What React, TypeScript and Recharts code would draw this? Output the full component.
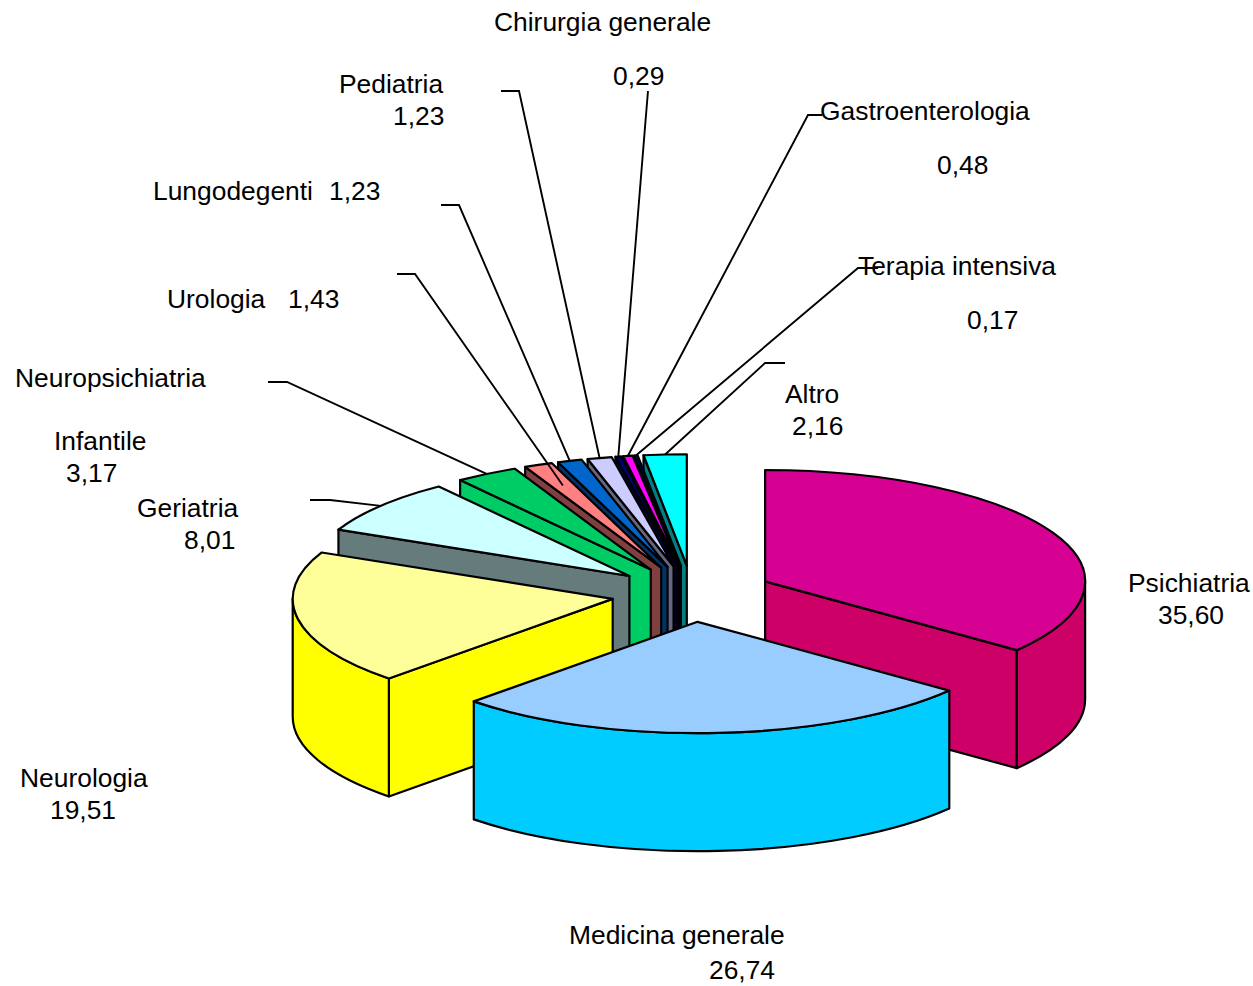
import React from 'react';
import { PieChart, Pie } from 'recharts';

// Draw order runs back to front so the painter's order matches the 3D view.
const categories = ['Psichiatria', 'Altro', 'Terapia intensiva', 'Gastroenterologia', 'Chirurgia generale', 'Pediatria', 'Lungodegenti', 'Urologia', 'Neuropsichiatria Infantile', 'Geriatria', 'Neurologia', 'Medicina generale'];
const shares = [35.6, 2.16, 0.17, 0.48, 0.29, 1.23, 1.23, 1.43, 3.17, 8.01, 19.51, 26.74];
const topColors = ['#d60093', '#00ffff', '#000080', '#ff00ff', '#000080', '#ccccff', '#0066cc', '#ff8080', '#00cc66', '#ccffff', '#ffff99', '#99ccff'];
const wallColors = ['#cc0066', '#008080', '#000040', '#800080', '#000040', '#666680', '#003366', '#804040', '#00cc66', '#667b7b', '#ffff00', '#00ccff'];

const data = categories.map((name, i) => ({ name, value: shares[i], top: topColors[i], wall: wallColors[i], fill: topColors[i] }));
const total = shares.reduce((a, b) => a + b, 0);
const firstStart = 90 - (360 * shares[0]) / total;

const FONT = '"Liberation Sans", Arial, sans-serif';
const SQUASH = 0.348;
const DEPTH = 118;
const EXPLODE = 0.253;
const RAD = Math.PI / 180;

function geometry(p: any) {
  const a1 = Math.min(p.startAngle, p.endAngle);
  const a2 = Math.max(p.startAngle, p.endAngle);
  const mid = (a1 + a2) / 2;
  const r = p.outerRadius;
  const ax = p.cx + r * EXPLODE * Math.cos(mid * RAD);
  const ay = p.cy - r * EXPLODE * SQUASH * Math.sin(mid * RAD);
  const at = (deg: number, f = 1) => ({
    x: ax + r * f * Math.cos(deg * RAD),
    y: ay - r * f * SQUASH * Math.sin(deg * RAD),
  });
  return { a1, a2, mid, r, ax, ay, at };
}

function Wedge3D(props: any) {
  const { a1, a2, r, ax, ay, at } = geometry(props);
  const { top, wall } = props.payload ?? props;
  const stroke = { stroke: '#000', strokeWidth: 2.2, strokeLinejoin: 'round' as const };
  const rx = r;
  const ry = r * SQUASH;
  const p1 = at(a1);
  const p2 = at(a2);
  const faces: React.ReactNode[] = [];
  const quad = (p: { x: number; y: number }, key: string) => (
    <path key={key} d={`M${ax},${ay} L${p.x},${p.y} L${p.x},${p.y + DEPTH} L${ax},${ay + DEPTH} Z`} fill={wall} {...stroke} />
  );
  if (Math.cos(a1 * RAD) > 1e-6) faces.push(quad(p1, 'low'));
  if (Math.cos(a2 * RAD) < -1e-6) faces.push(quad(p2, 'high'));
  for (let k = -1; k <= 2; k++) {
    const lo = Math.max(a1, 180 + 360 * k);
    const hi = Math.min(a2, 360 + 360 * k);
    if (hi > lo) {
      const s = at(lo);
      const e = at(hi);
      faces.push(
        <path
          key={`arc${k}`}
          d={`M${s.x},${s.y} A${rx},${ry} 0 0 0 ${e.x},${e.y} L${e.x},${e.y + DEPTH} A${rx},${ry} 0 0 1 ${s.x},${s.y + DEPTH} Z`}
          fill={wall}
          {...stroke}
        />,
      );
    }
  }
  return (
    <g>
      {faces}
      <path
        d={`M${ax},${ay} L${p1.x},${p1.y} A${rx},${ry} 0 ${a2 - a1 > 180 ? 1 : 0} 0 ${p2.x},${p2.y} Z`}
        fill={top}
        {...stroke}
      />
    </g>
  );
}

type Txt = [string, number, number];
const labelLayout: Record<string, { texts: Txt[]; elbow?: [number, number]; stub?: number; reach?: number }> = {
  Psichiatria: { texts: [['Psichiatria', 1128, 592], ['35,60', 1158, 624]] },
  'Medicina generale': { texts: [['Medicina generale', 569, 944], ['26,74', 709, 979]] },
  Neurologia: { texts: [['Neurologia', 20, 787], ['19,51', 50, 819]] },
  Geriatria: { texts: [['Geriatria', 137, 517], ['8,01', 184, 549]], elbow: [330, 500], stub: 310 },
  'Neuropsichiatria Infantile': { texts: [['Neuropsichiatria', 15, 387], ['Infantile', 54, 450], ['3,17', 66, 482]], elbow: [287, 382], stub: 268 },
  Urologia: { texts: [['Urologia', 167, 308], ['1,43', 288, 308]], elbow: [415, 274], stub: 397, reach: 0.8 },
  Lungodegenti: { texts: [['Lungodegenti', 153, 200], ['1,23', 329, 200]], elbow: [459, 205], stub: 441 },
  Pediatria: { texts: [['Pediatria', 339, 93], ['1,23', 393, 125]], elbow: [519, 91], stub: 501 },
  'Chirurgia generale': { texts: [['Chirurgia generale', 494, 31], ['0,29', 613, 85]], elbow: [646, 115], stub: 648 },
  Gastroenterologia: { texts: [['Gastroenterologia', 820, 120], ['0,48', 937, 174]], elbow: [808, 115], stub: 822 },
  'Terapia intensiva': { texts: [['Terapia intensiva', 858, 275], ['0,17', 967, 329]], elbow: [858, 268], stub: 878 },
  Altro: { texts: [['Altro', 785, 403], ['2,16', 792, 435]], elbow: [765, 363], stub: 785 },
};

function renderLabel(props: any) {
  const name = props.name ?? props.payload?.name;
  const layout = labelLayout[name];
  if (!layout) return null;
  let leader: React.ReactNode = null;
  if (layout.elbow) {
    const { mid, at } = geometry(props);
    const end = at(mid, layout.reach ?? 1);
    const [ex, ey] = layout.elbow;
    const stubY = name === 'Chirurgia generale' ? 91 : ey;
    leader = (
      <polyline
        points={`${layout.stub},${stubY} ${ex},${ey} ${end.x},${end.y}`}
        fill="none"
        stroke="#000"
        strokeWidth={1.9}
      />
    );
  }
  return (
    <g>
      {leader}
      {layout.texts.map(([t, x, y]) => (
        <text key={t} x={x} y={y} fontFamily={FONT} fontSize={26.4} fill="#000">
          {t}
        </text>
      ))}
    </g>
  );
}

export default function App() {
  return (
    <div style={{ position: 'absolute', left: 0, top: 0, width: 1253, height: 986, overflow: 'hidden', background: '#fff' }}>
      <PieChart width={1253} height={986} margin={{ top: 0, right: 0, bottom: 0, left: 0 }}>
        <Pie
          data={data}
          dataKey="value"
          nameKey="name"
          cx={692.3}
          cy={593.7}
          innerRadius={0}
          outerRadius={320}
          startAngle={firstStart}
          endAngle={firstStart + 360}
          isAnimationActive={false}
          shape={Wedge3D}
          label={renderLabel}
          labelLine={false}
        />
      </PieChart>
    </div>
  );
}
